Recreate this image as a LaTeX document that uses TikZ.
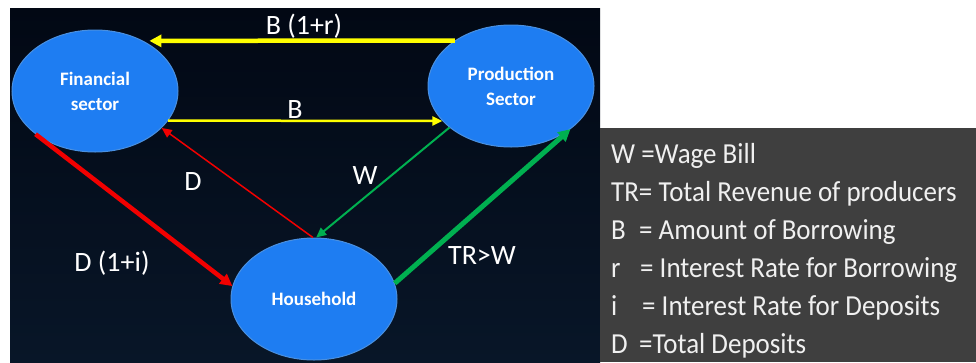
\documentclass[tikz,border=0pt]{standalone}
\usepackage{fontspec}
\setmainfont{Carlito}
\newfontfamily\legfont[FakeStretch=0.93]{Carlito}
\usetikzlibrary{shapes.geometric,arrows.meta}
\definecolor{navytop}{HTML}{020814}
\definecolor{navybot}{HTML}{081628}
\definecolor{blob}{HTML}{1E7DF2}
\definecolor{blobedge}{HTML}{4A90E0}
\definecolor{legendgrey}{HTML}{3F3F3F}
\definecolor{ylw}{HTML}{FFFF00}
\definecolor{rd}{HTML}{F20000}
\definecolor{grn}{HTML}{00B050}
\tikzset{
  sector/.style={shape=ellipse, fill=blob, draw=blobedge, line width=1pt,
    minimum width=166pt, minimum height=122pt, inner sep=0pt, text=white,
    align=center, font=\fontsize{19}{25}\selectfont\bfseries},
  flowlabel/.style={text=white, font=\fontsize{28}{32}\selectfont, inner sep=0pt},
  legtext/.style={text=white!94!black, font=\legfont\fontsize{29}{32}\selectfont, anchor=base west, inner sep=0pt},
  bigtip/.style={-{Triangle[length=12pt,width=12pt]}},
  smalltip/.style={-{Triangle[length=10pt,width=9pt]}}
}
\begin{document}
\begin{tikzpicture}[x=1pt,y=-1pt]
\useasboundingbox (0,0) rectangle (976,362);
\fill[white] (0,0) rectangle (976,362);
\shade[top color=navytop, bottom color=navybot] (10,8) rectangle (600,362);
\fill[legendgrey] (600,128) rectangle (976,362);

% sectors
\node[sector] (fin) at (95,91) {Financial\\sector};
\node[sector] (prod) at (511,86) {Production\\Sector};
\node[sector] (house) at (314,299) {Household};

% flows
\draw[ylw, line width=4.5pt, bigtip, shorten >=6pt] (prod.141.2) -- (fin.46.5);
\draw[ylw, line width=2.5pt, smalltip] (fin.-22.5) -- (prod.207.2);
\draw[rd, line width=1.5pt, smalltip] (house.91) -- (fin.-29);
\draw[rd, line width=4.5pt, bigtip] (fin.216.3) -- (house.171.6);
\draw[grn, line width=2pt, smalltip] (prod.214.5) -- (house.88);
\draw[grn, line width=5pt, bigtip] (house.11.4) -- (prod.-36.4);

% flow labels
\node[flowlabel] (lbr) at (304,26) {B (1+r)};
\node[flowlabel] (lb) at (295,110) {B};
\node[flowlabel] (ld) at (193,182) {D};
\node[flowlabel] (lw) at (365,176) {W};
\node[flowlabel] (ldi) at (112,263) {D (1+i)};
\node[flowlabel] (ltr) at (482,256) {TR>W};

% legend
\node[legtext] (k1) at (611,163) {W =Wage Bill};
\node[legtext] (k2) at (611,201) {TR= Total Revenue of producers};
\node[legtext] (k3a) at (611,239) {B};
\node[legtext] (k3b) at (639,239) {= Amount of Borrowing};
\node[legtext] (k4a) at (611,277) {r};
\node[legtext] (k4b) at (640,277) {= Interest Rate for Borrowing};
\node[legtext] (k5a) at (611,315) {i};
\node[legtext] (k5b) at (642,315) {= Interest Rate for Deposits};
\node[legtext] (k6a) at (611,353) {D};
\node[legtext] (k6b) at (639,353) {=Total Deposits};
\end{tikzpicture}
\end{document}
